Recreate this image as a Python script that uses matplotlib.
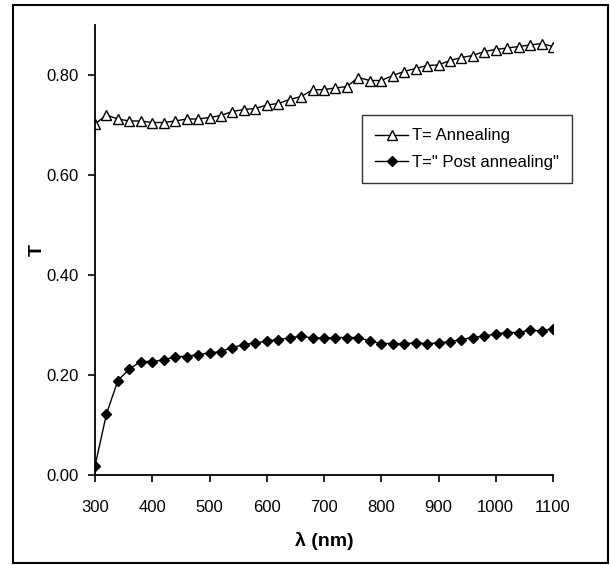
import matplotlib
matplotlib.use("Agg")
import matplotlib.pyplot as plt
from matplotlib.patches import Rectangle

plt.rcParams["font.family"] = ["Liberation Sans Narrow", "Liberation Sans", "DejaVu Sans"]

wavelength = list(range(300, 1101, 20))

t_annealing = [
    0.702, 0.720, 0.712, 0.708, 0.708, 0.705, 0.705, 0.708, 0.712, 0.712,
    0.715, 0.719, 0.727, 0.731, 0.733, 0.740, 0.743, 0.751, 0.757, 0.770,
    0.771, 0.774, 0.777, 0.795, 0.789, 0.789, 0.799, 0.807, 0.813, 0.819,
    0.820, 0.829, 0.835, 0.839, 0.847, 0.851, 0.854, 0.857, 0.860, 0.863,
    0.857,
]

t_post = [
    0.018, 0.122, 0.189, 0.212, 0.227, 0.227, 0.230, 0.237, 0.237, 0.241,
    0.244, 0.247, 0.255, 0.261, 0.264, 0.268, 0.271, 0.274, 0.278, 0.274,
    0.274, 0.275, 0.275, 0.275, 0.268, 0.263, 0.263, 0.263, 0.264, 0.263,
    0.264, 0.267, 0.271, 0.275, 0.278, 0.282, 0.285, 0.285, 0.290, 0.288,
    0.293,
]

y_ticks = [0.0, 0.2, 0.4, 0.6, 0.8]
x_ticks = list(range(300, 1101, 100))

fig = plt.figure(figsize=(6.11, 5.65), dpi=100)
ax = fig.add_axes([95 / 611, 1 - 475 / 565, 458 / 611, 450 / 565])

ax.plot(wavelength, t_annealing, color="black", lw=1.0, marker="^", ms=7,
        mfc="white", mec="black", mew=1.0, label="T= Annealing")
ax.plot(wavelength, t_post, color="black", lw=1.0, marker="D", ms=5.5,
        mfc="black", mec="black", label='T=" Post annealing"')

ax.set_xlim(300, 1100)
ax.set_ylim(0, 0.9)
ax.set_xticks(x_ticks)
ax.set_yticks(y_ticks)
ax.set_yticklabels([f"{v:.2f}" for v in y_ticks])

for side in ("top", "right"):
    ax.spines[side].set_visible(False)
for side in ("left", "bottom"):
    ax.spines[side].set_linewidth(1.3)
ax.tick_params(direction="out", length=5, width=1.2, labelsize=12, colors="black")
ax.tick_params(axis="x", pad=13)
ax.tick_params(axis="y", pad=7)

ax.set_xlabel("λ (nm)", fontsize=14, fontweight="bold", labelpad=12)
ax.set_ylabel("T", fontsize=14, fontweight="bold", labelpad=0)

leg = ax.legend(loc="upper right", bbox_to_anchor=((572 - 95) / 458, 1 - (115 - 25) / 450),
                fontsize=12, frameon=True, fancybox=False, handlelength=2.0,
                handletextpad=0.2, borderpad=0.8, labelspacing=0.7,
                borderaxespad=0)
leg.get_frame().set_edgecolor("black")
leg.get_frame().set_linewidth(1.0)

fig.patches.append(Rectangle((13 / 611, 1 - 563 / 565), 595 / 611, 558 / 565,
                             transform=fig.transFigure, fill=False,
                             edgecolor="black", lw=1.5))

fig.savefig("out.png", dpi=100)
